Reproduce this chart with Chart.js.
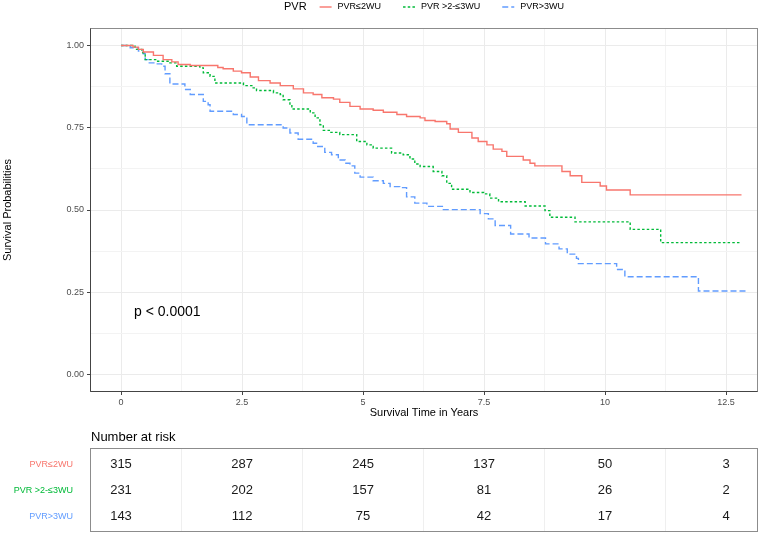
<!DOCTYPE html>
<html>
<head>
<meta charset="utf-8">
<title>Survival by PVR</title>
<script src="https://cdn.jsdelivr.net/npm/chart.js@4.4.0/dist/chart.umd.min.js"></script>
<style>
    html, body { margin: 0; padding: 0; background: #fff; }
    #wrap { position: relative; width: 760px; height: 533px; }
    #kmChart { position: absolute; left: 0; top: 0; }
    #riskChart { position: absolute; left: 0; top: 425px; }
</style>
</head>
<body>
<div id="wrap">
    <canvas id="kmChart" width="760" height="425"></canvas>
    <canvas id="riskChart" width="760" height="108"></canvas>
</div>
<script>
// Groups
const legendTitle = 'PVR';
const groupNames = ['PVR≤2WU', 'PVR >2-≤3WU', 'PVR>3WU'];

// Kaplan-Meier steps: [years, survival after the drop]
const survLow = [
    [0, 1.0], [0.25, 0.995], [0.36, 0.988], [0.46, 0.98], [0.67, 0.97], [0.87, 0.957],
    [1.05, 0.95], [1.18, 0.942], [1.43, 0.939], [2.0, 0.933], [2.11, 0.929], [2.32, 0.922],
    [2.49, 0.917], [2.67, 0.904], [2.84, 0.893], [3.08, 0.886], [3.29, 0.878], [3.56, 0.868],
    [3.77, 0.856], [3.97, 0.851], [4.15, 0.841], [4.39, 0.837], [4.52, 0.827], [4.73, 0.815],
    [4.94, 0.807], [5.21, 0.803], [5.42, 0.797], [5.70, 0.790], [5.90, 0.784], [6.18, 0.780],
    [6.28, 0.772], [6.49, 0.769], [6.73, 0.762], [6.80, 0.746], [6.97, 0.736], [7.25, 0.719],
    [7.38, 0.708], [7.56, 0.698], [7.69, 0.685], [7.87, 0.678], [7.97, 0.663], [8.31, 0.652],
    [8.45, 0.642], [8.55, 0.634], [9.11, 0.617], [9.28, 0.604], [9.52, 0.584], [9.90, 0.573],
    [10.03, 0.561], [10.52, 0.546], [12.82, 0.546]
];
const survMid = [
    [0, 1.0], [0.29, 0.988], [0.43, 0.978], [0.50, 0.957], [0.74, 0.952], [1.01, 0.947],
    [1.15, 0.937], [1.63, 0.932], [1.70, 0.917], [1.84, 0.906], [1.94, 0.886], [2.53, 0.878],
    [2.73, 0.871], [2.80, 0.863], [3.15, 0.856], [3.29, 0.851], [3.35, 0.835], [3.49, 0.820],
    [3.53, 0.807], [3.91, 0.795], [4.01, 0.780], [4.11, 0.759], [4.18, 0.742], [4.32, 0.736],
    [4.52, 0.729], [4.87, 0.708], [5.08, 0.698], [5.21, 0.688], [5.59, 0.673], [5.83, 0.668],
    [5.97, 0.655], [6.07, 0.640], [6.18, 0.632], [6.45, 0.617], [6.63, 0.604], [6.73, 0.581],
    [6.83, 0.563], [7.21, 0.553], [7.49, 0.549], [7.62, 0.536], [7.80, 0.525], [8.35, 0.512],
    [8.76, 0.498], [8.86, 0.478], [9.38, 0.464], [10.52, 0.441], [11.15, 0.401], [12.79, 0.401]
];
const survHigh = [
    [0, 1.0], [0.19, 0.993], [0.36, 0.983], [0.46, 0.975], [0.50, 0.957], [0.56, 0.947],
    [0.70, 0.944], [0.84, 0.937], [0.91, 0.914], [1.01, 0.883], [1.32, 0.866], [1.43, 0.851],
    [1.70, 0.830], [1.80, 0.820], [1.84, 0.800], [2.32, 0.790], [2.49, 0.784], [2.60, 0.759],
    [3.35, 0.749], [3.49, 0.734], [3.66, 0.715], [3.97, 0.703], [4.04, 0.693], [4.21, 0.675],
    [4.35, 0.668], [4.49, 0.652], [4.63, 0.642], [4.73, 0.634], [4.83, 0.612], [4.94, 0.600],
    [5.21, 0.589], [5.42, 0.581], [5.56, 0.571], [5.76, 0.568], [5.90, 0.540], [6.07, 0.521],
    [6.32, 0.511], [6.66, 0.501], [7.42, 0.489], [7.59, 0.473], [7.73, 0.453], [8.05, 0.427],
    [8.43, 0.415], [8.77, 0.397], [9.05, 0.382], [9.22, 0.366], [9.41, 0.353], [9.45, 0.337],
    [10.24, 0.319], [10.41, 0.297], [11.93, 0.254], [12.93, 0.254]
];

// Axis ticks (majors are labelled, the rest are grid only)
const xMajor = [0, 2.5, 5, 7.5, 10, 12.5];
const xGrid = [0, 1.25, 2.5, 3.75, 5, 6.25, 7.5, 8.75, 10, 11.25, 12.5];
const yMajor = [0, 0.25, 0.5, 0.75, 1];
const yGrid = [0, 0.125, 0.25, 0.375, 0.5, 0.625, 0.75, 0.875, 1];

// p-value annotation
const pValueText = 'p < 0.0001';
const pValueAt = [0.27, 0.19];

// Number at risk table
const riskTitle = 'Number at risk';
const riskTimes = [0, 2.5, 5, 7.5, 10, 12.5];
const riskLow = [315, 287, 245, 137, 50, 3];
const riskMid = [231, 202, 157, 81, 26, 2];
const riskHigh = [143, 112, 75, 42, 17, 4];
const riskGrid = [1.25, 3.75, 6.25, 8.75, 11.25];

// Styles
const FONT = "'Liberation Sans', Arial, sans-serif";
const groupColors = ['#F8766D', '#00BA38', '#619CFF'];
const groupDash = [[], [2.5, 2.2], [6, 3]];
const X_MIN = -0.62, X_MAX = 13.14;

Chart.defaults.font.family = FONT;

const isIn = (list, v) => list.some(m => Math.abs(m - v) < 1e-9);

// Panel frame drawn over the grid
const framePlugin = {
    id: 'frame',
    afterDatasetsDraw(chart, args, opts) {
        const { ctx, chartArea: a } = chart;
        ctx.save();
        ctx.lineWidth = 1;
        ctx.strokeStyle = opts.color || '#8c8c8c';
        ctx.strokeRect(a.left - 0.5, a.top - 0.5, a.right - a.left + 1, a.bottom - a.top + 1);
        if (opts.axisColor) {
            ctx.strokeStyle = opts.axisColor;
            ctx.beginPath();
            ctx.moveTo(a.left - 0.5, a.top - 0.5);
            ctx.lineTo(a.left - 0.5, a.bottom + 0.5);
            ctx.lineTo(a.right + 0.5, a.bottom + 0.5);
            ctx.stroke();
        }
        ctx.restore();
    }
};

const pvalPlugin = {
    id: 'pval',
    afterDatasetsDraw(chart) {
        const { ctx, scales: { x, y } } = chart;
        ctx.save();
        ctx.font = `14px ${FONT}`;
        ctx.fillStyle = '#000';
        ctx.textAlign = 'left';
        ctx.textBaseline = 'middle';
        ctx.fillText(pValueText, x.getPixelForValue(pValueAt[0]), y.getPixelForValue(pValueAt[1]));
        ctx.restore();
    }
};

// ggplot-style legend on one line above the panel
const topLegendPlugin = {
    id: 'topLegend',
    afterDraw(chart) {
        const { ctx, chartArea: a } = chart;
        const cy = 7;
        ctx.save();
        ctx.textBaseline = 'middle';
        ctx.textAlign = 'left';
        ctx.font = `11px ${FONT}`;
        const titleW = ctx.measureText(legendTitle).width;
        ctx.font = `9px ${FONT}`;
        const items = chart.data.datasets.map(ds => ({ ds, w: 12 + 6 + ctx.measureText(ds.label).width }));
        const total = titleW + 13 + items.reduce((s, it) => s + it.w, 0) + 22 * (items.length - 1);
        let x = (a.left + a.right) / 2 - total / 2;

        ctx.font = `11px ${FONT}`;
        ctx.fillStyle = '#000';
        ctx.fillText(legendTitle, x, cy);
        x += titleW + 13;

        ctx.font = `9px ${FONT}`;
        items.forEach(({ ds, w }) => {
            ctx.strokeStyle = ds.borderColor;
            ctx.lineWidth = ds.borderWidth;
            ctx.setLineDash(ds.borderDash || []);
            ctx.beginPath();
            ctx.moveTo(x, cy);
            ctx.lineTo(x + 12, cy);
            ctx.stroke();
            ctx.setLineDash([]);
            ctx.fillStyle = '#000';
            ctx.fillText(ds.label, x + 18, cy);
            x += w + 22;
        });
        ctx.restore();
    }
};

const kmSeries = [survLow, survMid, survHigh];

new Chart(document.getElementById('kmChart'), {
    type: 'line',
    data: {
        datasets: kmSeries.map((series, i) => ({
            label: groupNames[i],
            data: series.map(([t, s]) => ({ x: t, y: s })),
            borderColor: groupColors[i],
            borderWidth: 1.4,
            borderDash: groupDash[i],
            stepped: 'before',
            pointRadius: 0,
            fill: false
        }))
    },
    options: {
        responsive: false,
        animation: false,
        layout: { padding: { top: 29, right: 3, left: 0, bottom: 0 } },
        plugins: {
            legend: { display: false },
            tooltip: { enabled: false },
            frame: { color: '#8c8c8c', axisColor: '#444' }
        },
        scales: {
            x: {
                type: 'linear',
                min: X_MIN,
                max: X_MAX,
                afterBuildTicks: s => { s.ticks = xGrid.map(v => ({ value: v })); },
                afterFit: s => { s.height = 34; },
                border: { display: false },
                grid: {
                    color: ctx => isIn(xMajor, ctx.tick.value) ? '#EBEBEB' : '#F3F3F3',
                    tickLength: 4,
                    tickColor: ctx => isIn(xMajor, ctx.tick.value) ? '#444' : 'rgba(0,0,0,0)'
                },
                ticks: {
                    autoSkip: false,
                    maxRotation: 0,
                    padding: 2,
                    color: '#4D4D4D',
                    font: { size: 9 },
                    callback: v => isIn(xMajor, v) ? String(v) : ''
                },
                title: {
                    display: true,
                    text: 'Survival Time in Years',
                    color: '#000',
                    font: { size: 11 },
                    padding: { top: 0, bottom: 5 }
                }
            },
            y: {
                type: 'linear',
                min: -0.05,
                max: 1.05,
                afterBuildTicks: s => { s.ticks = yGrid.map(v => ({ value: v })); },
                afterFit: s => { s.width = 91; },
                border: { display: false },
                grid: {
                    color: ctx => isIn(yMajor, ctx.tick.value) ? '#EBEBEB' : '#F3F3F3',
                    tickLength: 4,
                    tickColor: ctx => isIn(yMajor, ctx.tick.value) ? '#444' : 'rgba(0,0,0,0)'
                },
                ticks: {
                    autoSkip: false,
                    padding: 3,
                    color: '#4D4D4D',
                    font: { size: 9 },
                    callback: v => isIn(yMajor, v) ? v.toFixed(2) : ''
                },
                title: {
                    display: true,
                    text: 'Survival Probabilities',
                    color: '#000',
                    font: { size: 11 },
                    padding: { top: 1, bottom: 0 }
                }
            }
        }
    },
    plugins: [framePlugin, pvalPlugin, topLegendPlugin]
});

// Risk table: each count sits on a (time, row) point placed by the scales
const riskRows = [riskLow, riskMid, riskHigh];
const rowPos = [3, 2, 1];

const riskTextPlugin = {
    id: 'riskText',
    afterDatasetsDraw(chart) {
        const { ctx, chartArea: a } = chart;
        ctx.save();
        ctx.font = `13px ${FONT}`;
        ctx.fillStyle = '#000';
        ctx.textAlign = 'left';
        ctx.textBaseline = 'middle';
        ctx.fillText(riskTitle, a.left, 12);

        ctx.font = `13px ${FONT}`;
        ctx.fillStyle = '#1a1a1a';
        ctx.textAlign = 'center';
        chart.data.datasets.forEach((ds, i) => {
            chart.getDatasetMeta(i).data.forEach((el, j) => {
                ctx.fillText(String(ds.data[j].n), el.x, el.y);
            });
        });
        ctx.restore();
    }
};

new Chart(document.getElementById('riskChart'), {
    type: 'scatter',
    data: {
        datasets: riskRows.map((row, i) => ({
            label: groupNames[i],
            data: riskTimes.map((t, j) => ({ x: t, y: rowPos[i], n: row[j] })),
            pointRadius: 0,
            showLine: false
        }))
    },
    options: {
        responsive: false,
        animation: false,
        layout: { padding: { top: 24, right: 3, left: 0, bottom: 2 } },
        plugins: {
            legend: { display: false },
            tooltip: { enabled: false },
            frame: { color: '#8c8c8c' }
        },
        scales: {
            x: {
                type: 'linear',
                min: X_MIN,
                max: X_MAX,
                afterBuildTicks: s => { s.ticks = riskGrid.map(v => ({ value: v })); },
                afterFit: s => { s.height = 0; },
                border: { display: false },
                grid: { color: '#EFEFEF', drawTicks: false },
                ticks: { display: false }
            },
            y: {
                type: 'linear',
                min: 0.45,
                max: 3.6,
                afterBuildTicks: s => { s.ticks = rowPos.map(v => ({ value: v })); },
                afterFit: s => {
                    s.width = 91;
                    // row labels sit well inside the box, so no edge padding is needed
                    s.paddingTop = 0;
                    s.paddingBottom = 0;
                },
                border: { display: false },
                grid: { display: false, drawTicks: false },
                ticks: {
                    autoSkip: false,
                    padding: 18,
                    font: { size: 9 },
                    color: ctx => groupColors[rowPos.indexOf(ctx.tick.value)],
                    callback: v => groupNames[rowPos.indexOf(v)]
                }
            }
        }
    },
    plugins: [framePlugin, riskTextPlugin]
});
</script>
</body>
</html>
